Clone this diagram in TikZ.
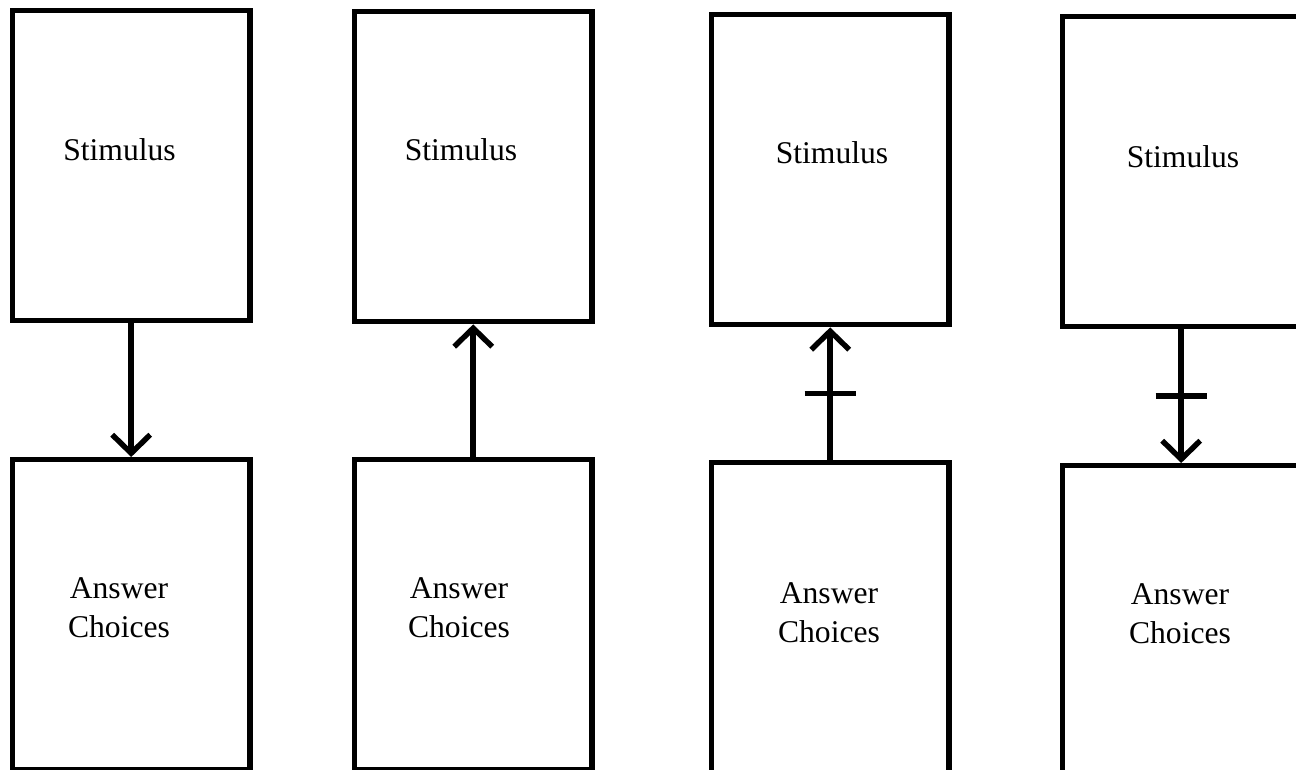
\documentclass[tikz,border=0pt]{standalone}
\usepackage{fontspec}
\setmainfont{Liberation Serif}
\usetikzlibrary{arrows.meta}

\begin{document}
\begin{tikzpicture}[x=0.02cm,y=-0.02cm,
		panel/.style={draw,line width=3.1pt,inner sep=0pt,anchor=north west,
			minimum width=4.76cm,minimum height=6.2cm},
		word/.style={font=\fontsize{18}{22}\selectfont,align=center,inner sep=0pt},
		link/.style={line width=3.1pt,-{Straight Barb[length=0.37cm,width=0.76cm]}},
		tick/.style={line width=3.1pt}]
		\useasboundingbox (0,0) rectangle (1296,770);
		% boxes
		\node[panel] (s1) at (9.5,8) {};
		\node[panel] (a1) at (9.5,457) {};
		\node[panel] (s2) at (351.5,9) {};
		\node[panel] (a2) at (351.5,457) {};
		\node[panel] (s3) at (708.5,12) {};
		\node[panel] (a3) at (708.5,460) {};
		\node[panel] (s4) at (1059.5,14) {};
		\node[panel] (a4) at (1059.5,463) {};
		% texts
		\node[word] (st1) at (119.5,150) {Stimulus};
		\node[word] (st2) at (461,150) {Stimulus};
		\node[word] (st3) at (832,153) {Stimulus};
		\node[word] (st4) at (1183,157) {Stimulus};
		\node[word] (ac1) at (119,608) {Answer\\Choices};
		\node[word] (ac2) at (459,608) {Answer\\Choices};
		\node[word] (ac3) at (829,613) {Answer\\Choices};
		\node[word] (ac4) at (1180,614) {Answer\\Choices};
		% arrows
		\draw[link] (s1) -- (a1);
		\draw[link] (a2) -- (s2);
		\draw[link] (a3) -- coordinate (m3) (s3);
		\draw[link] (s4) -- coordinate (m4) (a4);
		\draw[tick] ([xshift=-0.51cm]m3) -- ([xshift=0.51cm]m3);
		\draw[tick] ([xshift=-0.51cm]m4) -- ([xshift=0.51cm]m4);
	\end{tikzpicture}
\end{document}
